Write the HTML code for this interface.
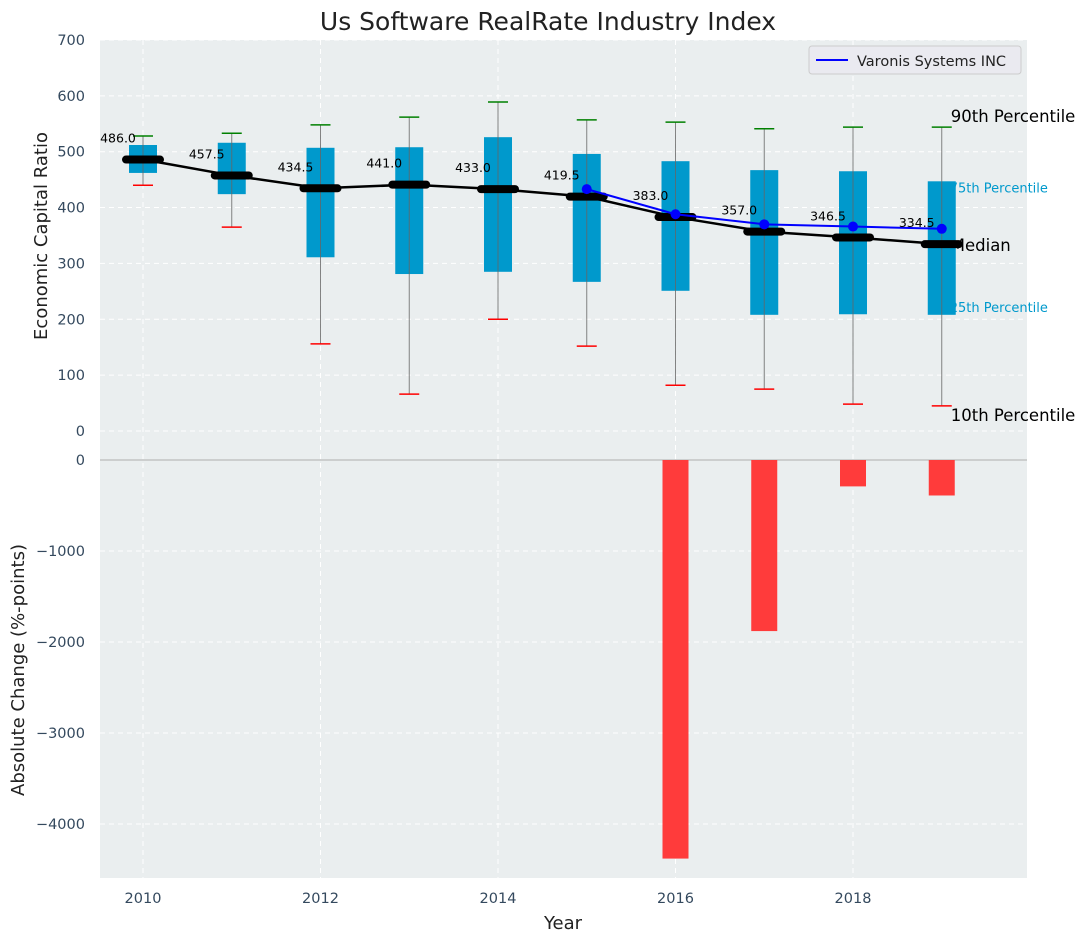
<!DOCTYPE html>
<html><head><meta charset="utf-8"><style>
body{margin:0;background:#fff;}
svg text{font-family:"DejaVu Sans","Liberation Sans",sans-serif;}
</style></head><body>
<svg id="chart" width="1085" height="942" xmlns="http://www.w3.org/2000/svg">
<rect x="100" y="40" width="927" height="838" fill="#eaeeef"/>
<text x="548" y="30" font-size="25" text-anchor="middle" fill="#222">Us Software RealRate Industry Index</text>
<g id="grid"></g>
<g id="annot"></g>
<g id="marks"></g>
<text x="47" y="236" font-size="18" fill="#222" text-anchor="middle" transform="rotate(-90 47 236)">Economic Capital Ratio</text>
<text x="24" y="670" font-size="18" fill="#222" text-anchor="middle" transform="rotate(-90 24 670)">Absolute Change (%-points)</text>
<text x="563" y="929" font-size="18" fill="#222" text-anchor="middle">Year</text>
<g>
<rect x="809" y="46" width="212" height="28" rx="3" fill="#eaeaf0" stroke="#ccc"/>
<line x1="816" y1="60" x2="848" y2="60" stroke="#0000ff" stroke-width="2"/>
<text x="857" y="66" font-size="14.5" fill="#222">Varonis Systems INC</text>
</g>
</svg>
<script>
const years=[2010,2011,2012,2013,2014,2015,2016,2017,2018,2019];
const medians=[486.0,457.5,434.5,441.0,433.0,419.5,383.0,357.0,346.5,334.5];
const q1=[462,424,311,281,285,267,251,208,209,208];
const q3=[512,516,507,508,526,496,483,467,465,447];
const p10=[440,365,156,66,200,152,82,75,48,45];
const p90=[528,533,548,562,589,557,553,541,544,544];
const companyYears=[2015,2016,2017,2018,2019];
const companyValues=[433,388,370,366,362];
const changeYears=[2016,2017,2018,2019];
const changeValues=[-4380,-1880,-290,-390];
const topTicks=[0,100,200,300,400,500,600,700];
const botTicks=[0,-1000,-2000,-3000,-4000];
const xTicks=[2010,2012,2014,2016,2018];

const NS='http://www.w3.org/2000/svg';
const X=y=>143+(y-2010)*88.75;
const YT=v=>431-v*0.5586;
const YB=v=>460-v*0.091;
const grid=document.getElementById('grid'),marks=document.getElementById('marks'),annot=document.getElementById('annot');
function mk(p,tag,a,txt){const e=document.createElementNS(NS,tag);for(const k in a)e.setAttribute(k,a[k]);if(txt!==undefined)e.textContent=txt;p.appendChild(e);return e;}

topTicks.forEach(t=>{
 mk(grid,'line',{x1:100,x2:1027,y1:YT(t),y2:YT(t),stroke:'#fff','stroke-dasharray':'5,4','stroke-width':1});
 const e=mk(grid,'text',{x:85,y:YT(t)+5,'font-size':14.5,fill:'#34495e','text-anchor':'end'},t);
 
 
});
botTicks.forEach(t=>{
 if(t!==0)mk(grid,'line',{x1:100,x2:1027,y1:YB(t),y2:YB(t),stroke:'#fff','stroke-dasharray':'5,4','stroke-width':1});
 const e=mk(grid,'text',{x:85,y:YB(t)+5,'font-size':14.5,fill:'#34495e','text-anchor':'end'},t===0?'0':'\u2212'+Math.abs(t));
 
 
});
xTicks.forEach(t=>{
 mk(grid,'line',{x1:X(t),x2:X(t),y1:40,y2:878,stroke:'#fff','stroke-dasharray':'5,4','stroke-width':1});
 const e=mk(grid,'text',{x:X(t),y:903,'font-size':14.5,fill:'#34495e','text-anchor':'middle'},t);
 
 
});
mk(grid,'line',{x1:100,x2:1027,y1:YB(0),y2:YB(0),stroke:'#bbb','stroke-width':1.2});

const last=years.length-1,lx=X(years[last])+12;
[['90th Percentile',YT(p90[last])-5,16.5,'#000',lx-3],['75th Percentile',YT(q3[last])+11,13,'#0099cc',lx-4],['Median',YT(medians[last])+7,16.5,'#000',lx-3],['25th Percentile',YT(q1[last])-3,13,'#0099cc',lx-4],['10th Percentile',YT(p10[last])+15,16.5,'#000',lx-3]].forEach(a=>{
 const t=mk(a[0]==='Median'?marks:annot,'text',{x:a[4],y:a[1],'font-size':a[2],fill:a[3]},a[0]);
 
 
});

years.forEach((y,i)=>{
 const cx=X(y);
 const b=mk(marks,'rect',{x:cx-14,y:YT(q3[i]),width:28,height:YT(q1[i])-YT(q3[i]),fill:'#0099cc'});
 
 
 mk(marks,'line',{x1:cx,x2:cx,y1:YT(p10[i]),y2:YT(p90[i]),stroke:'#666','stroke-width':1,opacity:0.8});
 const g=mk(marks,'line',{x1:cx-10,x2:cx+10,y1:YT(p90[i]),y2:YT(p90[i]),stroke:'green','stroke-width':1.5});
 
 
 const r=mk(marks,'line',{x1:cx-10,x2:cx+10,y1:YT(p10[i]),y2:YT(p10[i]),stroke:'red','stroke-width':1.5});
 
 
});
const mp=years.map((y,i)=>X(y)+','+YT(medians[i])).join(' ');
const ml=mk(marks,'polyline',{points:mp,fill:'none',stroke:'#000','stroke-width':2.5});


years.forEach((y,i)=>{
 const cx=X(y),cy=YT(medians[i]);
 const m=mk(marks,'line',{x1:cx-17,x2:cx+17,y1:cy,y2:cy,stroke:'#000','stroke-width':8,'stroke-linecap':'round'});
 
 
});
const cp=companyYears.map((y,i)=>X(y)+','+YT(companyValues[i])).join(' ');
const cl=mk(marks,'polyline',{points:cp,fill:'none',stroke:'#0000ff','stroke-width':2});


companyYears.forEach((y,i)=>{
 const c=mk(marks,'circle',{cx:X(y),cy:YT(companyValues[i]),r:5,fill:'#0000ff'});
 
 
});
years.forEach((y,i)=>{
 const t=mk(marks,'text',{x:X(y)-25,y:YT(medians[i])-17,'font-size':12.5,fill:'#000','text-anchor':'middle'},medians[i].toFixed(1));
 
 
});
changeYears.forEach((y,i)=>{
 const v=changeValues[i];
 const b=mk(marks,'rect',{x:X(y)-13,y:YB(0),width:26,height:YB(v)-YB(0),fill:'#ff3b3b'});
 
 
});
</script>
</body></html>
